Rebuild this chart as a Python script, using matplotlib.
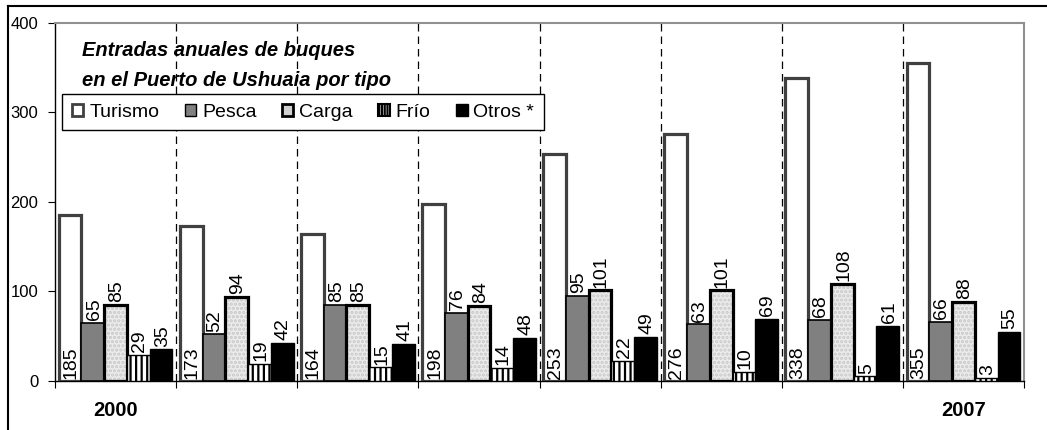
import numpy as np
import matplotlib
matplotlib.use("Agg")
import matplotlib.pyplot as plt
from matplotlib.patches import Patch
from matplotlib.lines import Line2D

plt.rcParams['font.family'] = ['Liberation Sans', 'DejaVu Sans']
plt.rcParams['hatch.linewidth'] = 1.6

years = [2000, 2001, 2002, 2003, 2004, 2005, 2006, 2007]
turismo = [185, 173, 164, 198, 253, 276, 338, 355]
pesca = [65, 52, 85, 76, 95, 63, 68, 66]
carga = [85, 94, 85, 84, 101, 101, 108, 88]
frio = [29, 19, 15, 14, 22, 10, 5, 3]
otros = [35, 42, 41, 48, 49, 69, 61, 55]
series_names = ["Turismo", "Pesca", "Carga", "Frío", "Otros *"]

fig = plt.figure(figsize=(10.47, 4.30), dpi=100)
ax = fig.add_axes([55/1047, 1 - 380.7/430, 969/1047, (380.7 - 23)/430])

x = np.arange(len(years))
w = 0.188
styles = [
    dict(facecolor="white", edgecolor="#404040", linewidth=2.3),
    dict(facecolor="#808080", edgecolor="black", linewidth=1.2),
    dict(facecolor="#e6e6e6", edgecolor="black", linewidth=2.3),
    dict(facecolor="white", edgecolor="black", linewidth=1, hatch="|||"),
    dict(facecolor="black", edgecolor="black", linewidth=1),
]
data = [turismo, pesca, carga, frio, otros]

for k, (vals, st) in enumerate(zip(data, styles)):
    xs = x + (k - 2) * w
    if k == 2:
        # light dotted texture, then the black outline on top
        ax.bar(xs, vals, width=w, facecolor="#ececec", edgecolor="#c8c8c8",
               hatch="....", linewidth=0, zorder=3)
        ax.bar(xs, vals, width=w, fill=False, edgecolor="black",
               linewidth=st["linewidth"], zorder=3)
    else:
        ax.bar(xs, vals, width=w, zorder=3, **st)
    for xi, v in zip(xs, vals):
        if k == 0:
            ax.text(xi + 0.01, 2, str(v), rotation=90, ha="center", va="bottom",
                    fontsize=14, zorder=4)
        else:
            ax.text(xi + 0.01, v + 3, str(v), rotation=90, ha="center", va="bottom",
                    fontsize=14, zorder=4)

# group separators
for b in x[:-1] + 0.5:
    ax.axvline(b, color="black", linestyle=(0, (6, 4)), linewidth=0.9, zorder=1)

ax.set_xlim(-0.5, len(years) - 0.5)
ax.set_ylim(0, 400)
ax.set_yticks([0, 100, 200, 300, 400])
ax.tick_params(axis="y", labelsize=12, length=5, direction="out", pad=7)
ax.set_xticks(np.arange(-0.5, len(years) + 0.5, 1))
ax.set_xticklabels([])
ax.tick_params(axis="x", length=5, direction="out")

for s in ["top", "right"]:
    ax.spines[s].set_color("#909090")
    ax.spines[s].set_linewidth(1.5)
for s in ["left", "bottom"]:
    ax.spines[s].set_color("black")
    ax.spines[s].set_linewidth(1)

ax.text(x[0], -33, str(years[0]), ha="center", va="center", fontsize=14.5,
        fontweight="bold")
ax.text(x[-1], -33, str(years[-1]), ha="center", va="center", fontsize=14.5,
        fontweight="bold")

fig.text(82/1047, 1 - 50/430, "Entradas anuales de buques", fontsize=14.5,
         fontweight="bold", style="italic", va="center")
fig.text(82/1047, 1 - 80/430, "en el Puerto de Ushuaia por tipo", fontsize=14.5,
         fontweight="bold", style="italic", va="center")

handles = [
    Patch(facecolor="white", edgecolor="#404040", linewidth=2),
    Patch(facecolor="#808080", edgecolor="black", linewidth=1),
    Patch(facecolor="#d0d0d0", edgecolor="black", linewidth=2),
    Patch(facecolor="white", edgecolor="black", linewidth=1.5, hatch="||||||"),
    Patch(facecolor="black", edgecolor="black", linewidth=1),
]
leg = ax.legend(handles, series_names, ncol=5, loc="upper left",
                bbox_to_anchor=(7/969, 1 - 71/357.7), fontsize=14,
                frameon=True, fancybox=False, edgecolor="black",
                handlelength=0.6, handleheight=0.6, handletextpad=0.3,
                columnspacing=1.3, borderpad=0.5, borderaxespad=0,
                framealpha=1)
leg.get_frame().set_linewidth(1)
leg.set_zorder(5)

# outer frame
fig.add_artist(Line2D([8/1047, 8/1047], [0, 1 - 6/430], color="black",
                      linewidth=1.5, transform=fig.transFigure))
fig.add_artist(Line2D([8/1047, 1], [1 - 6/430, 1 - 6/430], color="black",
                      linewidth=1.5, transform=fig.transFigure))

fig.savefig("out.png", dpi=100)
